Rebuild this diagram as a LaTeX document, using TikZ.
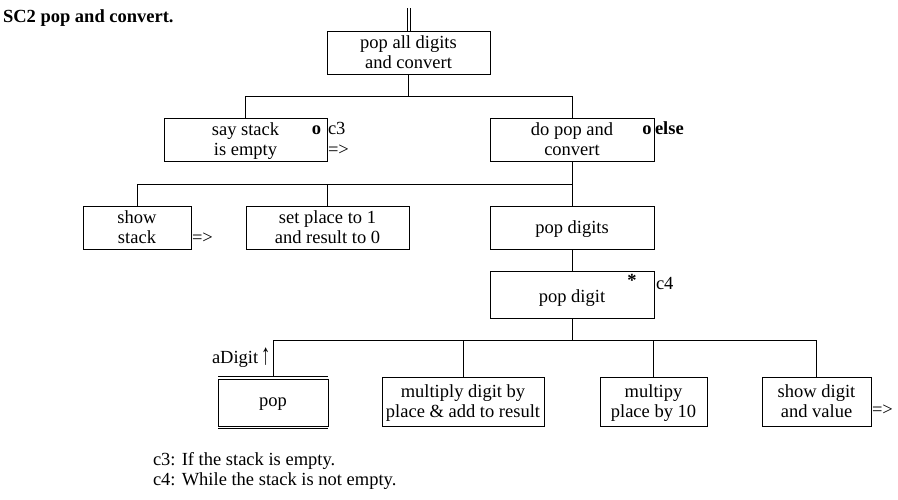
\documentclass[tikz,border=0pt]{standalone}
\usepackage{fontspec}
\usepackage{graphicx}
\setmainfont{Liberation Serif}
\begin{document}
\begin{tikzpicture}[x=1pt,y=-1pt,line width=1pt,
  font=\fontsize{18.5}{20}\selectfont,
  box/.style={draw,rectangle,inner sep=0pt,outer sep=0pt,align=center,text depth=-1pt},
  lbl/.style={anchor=base west,inner sep=0pt,outer sep=0pt},
  omark/.style={anchor=base,inner sep=0pt,outer sep=0pt,font=\fontsize{18.5}{20}\selectfont\bfseries}]
\useasboundingbox (0,0) rectangle (898,499);
% title
\node[lbl,font=\fontsize{18.5}{20}\selectfont\bfseries] (title) at (3,22) {SC2 pop and convert.};
% boxes
\node[box,minimum width=163,minimum height=43] (top) at (408.5,52.5) {pop all digits\\and convert};
\node[box,minimum width=163,minimum height=43] (say) at (245.5,139.5) {say stack\\is empty};
\node[box,minimum width=164,minimum height=43] (dopop) at (572,139.5) {do pop and\\convert};
\node[box,minimum width=108,minimum height=43] (show) at (137,227.5) {show\\stack};
\node[box,minimum width=163,minimum height=43] (setp) at (327.5,227.5) {set place to 1\\and result to 0};
\node[box,minimum width=164,minimum height=43,text depth=-3pt] (popdigits) at (572,227.5) {pop digits};
\node[box,minimum width=164,minimum height=47] (popdigit) at (572,294.5) {\raisebox{-4pt}{pop digit}};
\node[box,minimum width=110,minimum height=47] (pop) at (273,402.5) {pop};
\node[box,minimum width=162,minimum height=49] (mult) at (463,401.5) {multiply digit by\\place \& add to result};
\node[box,minimum width=107,minimum height=49] (mult10) at (653.5,401.5) {multipy\\place by 10};
\node[box,minimum width=109,minimum height=49] (showd) at (816.5,401.5) {show digit\\and value};
% double lines of the pop box
\draw ([yshift=2.5pt]pop.north west) -- ([yshift=2.5pt]pop.north east);
\draw ([yshift=-2.5pt]pop.south west) -- ([yshift=-2.5pt]pop.south east);
% entry double line
\coordinate (entry) at (408.5,8);
\draw ([xshift=-1.5pt]entry) -- ([xshift=-1.5pt]top.north);
\draw ([xshift=1.5pt]entry) -- ([xshift=1.5pt]top.north);
% tree connectors
\coordinate (j1) at (408.5,96);
\draw (top.south) -- (j1) -| (say.north);
\draw (j1) -| (dopop.north);
\coordinate (j2) at (572,184);
\draw (dopop.south) -- (j2) -| (show.north);
\draw (j2) -| (setp.north);
\draw (j2) -- (popdigits.north);
\draw (popdigits.south) -- (popdigit.north);
\coordinate (j3) at (572,340);
\draw (popdigit.south) -- (j3) -| ([yshift=2.5pt]pop.north);
\draw (j3) -| (mult.north);
\draw (j3) -| (mult10.north);
\draw (j3) -| (showd.north);
% markers and labels
\node[omark] (o1) at (316.5,134) {o};
\node[lbl] (c3) at (328,134) {c3};
\node[lbl] (ar1) at (328,155) {=>};
\node[omark] (o2) at (647,134) {o};
\node[lbl,font=\fontsize{18.5}{20}\selectfont\bfseries] (else) at (655,134) {else};
\node[lbl] (ar2) at (192,243) {=>};
\node[omark] (star) at (632,286) {*};
\node[lbl] (c4) at (656,289) {c4};
\node[lbl] (adigit) at (212,363) {aDigit\hspace{3pt}\raisebox{-1pt}{\scalebox{1}[1.6]{↑}}};
\node[lbl] (ar3) at (872,415) {=>};
% footnotes
\node[lbl] (n1) at (153,465) {c3: If the stack is empty.};
\node[lbl] (n2) at (153,485) {c4: While the stack is not empty.};
\end{tikzpicture}
\end{document}
